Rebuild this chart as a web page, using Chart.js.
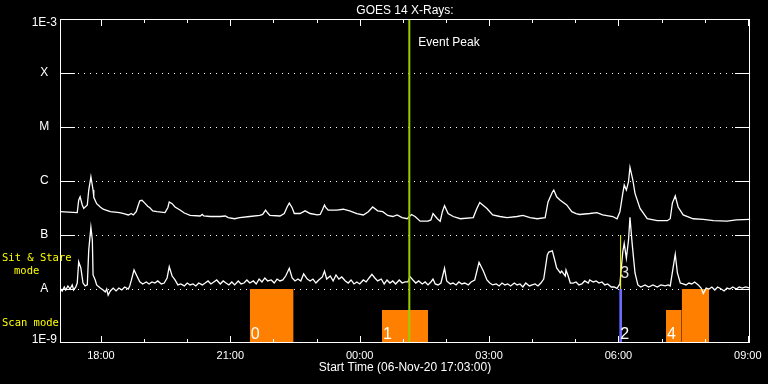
<!DOCTYPE html>
<html>
<head>
<meta charset="utf-8">
<script src="https://cdn.jsdelivr.net/npm/chart.js"></script>
<style>
  html, body { margin: 0; padding: 0; background: #000; }
  canvas { display: block; background: #000; }
</style>
</head>
<body>
<canvas id="c" width="768" height="384"></canvas>
<script>
// ---- Data (time in minutes since 06-Nov-20 17:03:00, flux in W/m^2) ----
const startLabel = 'Start Time (06-Nov-20 17:03:00)';
const titleText = 'GOES 14 X-Rays:';
const timeSpan = 960;

const tickMinutes = [57, 237, 417, 597, 777, 957];
const tickLabels = ['18:00', '21:00', '00:00', '03:00', '06:00', '09:00'];

const yLevels = [1e-9, 1e-8, 1e-7, 1e-6, 1e-5, 1e-4, 1e-3];
const yLevelLabels = ['1E-9', 'A', 'B', 'C', 'M', 'X', '1E-3'];

// long channel (1-8 A)
const longT = [
  0,24,26,28,31,33,38,40,43,46,
  47,51,56,60,70,83,90,95,97,99,
  102,106,109,111,114,118,122,125,129,135,
  146,150,152,156,160,167,173,181,195,198,
  200,209,223,230,234,243,250,264,278,282,
  286,289,292,306,312,316,319,323,326,334,
  341,348,358,362,365,368,370,373,385,394,
  403,413,422,429,435,442,449,456,463,469,
  476,483,489,494,501,512,516,519,525,529,
  532,535,540,547,557,575,580,584,594,602,
  612,622,636,644,654,664,675,679,685,687,
  691,696,705,712,718,723,737,747,755,769,
  775,779,783,785,788,791,793,797,800,807,
  817,831,845,849,852,856,860,867,881,895,
  909,928,941,960
];
const longFlux = [
  2.7e-7,2.6e-7,4.4e-7,5.1e-7,3.6e-7,3.1e-7,3.6e-7,6.8e-7,1.2e-6,6.8e-7,
  5.0e-7,3.8e-7,3.3e-7,3.0e-7,2.7e-7,2.6e-7,2.45e-7,2.35e-7,2.4e-7,2.5e-7,
  2.35e-7,2.7e-7,3.6e-7,4.3e-7,4.4e-7,3.9e-7,3.4e-7,3.2e-7,2.8e-7,2.7e-7,
  2.6e-7,3.2e-7,4.1e-7,3.8e-7,3.3e-7,2.9e-7,2.55e-7,2.3e-7,2.25e-7,2.4e-7,
  2.25e-7,2.2e-7,2.2e-7,2.25e-7,2.1e-7,2.0e-7,2.1e-7,2.2e-7,2.3e-7,2.4e-7,
  2.9e-7,2.55e-7,2.3e-7,2.25e-7,2.5e-7,3.3e-7,3.9e-7,3.2e-7,2.5e-7,2.5e-7,
  2.8e-7,2.5e-7,2.35e-7,2.4e-7,2.9e-7,3.6e-7,3.2e-7,2.9e-7,2.9e-7,3.0e-7,
  2.8e-7,2.5e-7,2.35e-7,2.7e-7,3.3e-7,2.8e-7,2.7e-7,2.3e-7,2.2e-7,2.35e-7,
  2.1e-7,2.0e-7,2.4e-7,2.2e-7,1.8e-7,1.8e-7,1.9e-7,2.5e-7,2.0e-7,1.8e-7,
  2.7e-7,3.5e-7,2.5e-7,2.2e-7,2.0e-7,2.1e-7,3.1e-7,4.0e-7,3.1e-7,2.35e-7,
  2.2e-7,2.1e-7,2.2e-7,2.3e-7,2.1e-7,2.0e-7,2.1e-7,4.1e-7,6.2e-7,6.8e-7,
  5.1e-7,4.4e-7,3.6e-7,2.7e-7,2.5e-7,2.4e-7,2.5e-7,2.6e-7,2.35e-7,2.2e-7,
  2.0e-7,2.7e-7,5.9e-7,8.4e-7,6.8e-7,9.7e-7,1.8e-6,1.04e-6,5.9e-7,3.1e-7,
  2.0e-7,1.84e-7,1.84e-7,2.0e-7,3.9e-7,5.3e-7,3.3e-7,2.35e-7,2.0e-7,1.95e-7,
  1.84e-7,1.8e-7,1.9e-7,1.95e-7
];

// short channel (0.5-4 A)
const shortT = [
  0,3,6,8,11,14,17,19,22,24,
  26,29,32,35,38,40,43,45,46,49,
  51,56,60,63,65,67,70,74,78,82,
  86,90,95,97,99,103,107,111,115,120,
  124,128,132,136,141,145,149,152,156,160,
  164,168,173,177,181,185,189,193,198,202,
  206,210,214,218,223,227,231,235,239,243,
  248,252,256,260,264,269,273,277,281,285,
  289,294,298,302,306,310,314,319,323,327,
  331,335,339,344,348,352,356,360,365,368,
  371,376,380,384,388,392,397,401,405,409,
  413,417,422,426,430,434,438,442,447,451,
  455,459,463,467,472,476,480,484,487,491,
  495,499,504,508,512,516,519,522,526,530,
  535,538,543,547,551,555,559,563,568,572,
  577,583,589,594,598,602,607,611,615,619,
  623,627,632,636,640,644,648,653,657,661,
  665,669,673,678,680,685,689,691,696,698,
  703,704,707,710,714,718,722,726,730,735,
  737,742,746,750,754,758,762,767,771,775,
  778,779,783,785,788,791,793,796,800,804,
  808,814,819,825,831,836,842,846,849,851,
  856,859,863,867,871,875,879,883,888,892,
  895,899,903,907,911,915,920,924,928,932,
  936,941,945,949,954,960
];
const shortFlux = [
  1.04e-8,0.92e-8,1.09e-8,0.96e-8,1.14e-8,1.0e-8,1.19e-8,0.96e-8,1.09e-8,1.29e-8,
  3.2e-8,2.45e-8,1.29e-8,1.14e-8,1.19e-8,5.3e-8,1.39e-7,8.1e-8,1.82e-8,1.47e-8,
  1.19e-8,1.04e-8,0.96e-8,0.88e-8,1.0e-8,0.77e-8,0.92e-8,1.04e-8,0.92e-8,1.04e-8,
  0.96e-8,1.09e-8,1.0e-8,1.14e-8,1.41e-8,2.25e-8,1.74e-8,1.36e-8,1.24e-8,1.35e-8,
  1.24e-8,1.35e-8,1.29e-8,1.41e-8,1.24e-8,1.29e-8,1.6e-8,2.59e-8,1.74e-8,1.47e-8,
  1.19e-8,1.24e-8,1.14e-8,1.29e-8,1.19e-8,1.24e-8,1.14e-8,1.29e-8,1.19e-8,1.29e-8,
  1.41e-8,1.24e-8,1.35e-8,1.47e-8,1.24e-8,1.41e-8,1.29e-8,1.19e-8,1.35e-8,1.19e-8,
  1.41e-8,1.24e-8,1.29e-8,1.47e-8,1.29e-8,1.41e-8,1.24e-8,1.53e-8,1.35e-8,1.6e-8,
  1.41e-8,1.47e-8,1.29e-8,1.53e-8,1.41e-8,1.47e-8,1.74e-8,2.42e-8,1.6e-8,1.41e-8,
  1.53e-8,1.41e-8,1.9e-8,1.53e-8,1.41e-8,1.53e-8,1.29e-8,1.47e-8,1.67e-8,2.15e-8,
  1.53e-8,1.74e-8,1.41e-8,1.82e-8,1.53e-8,1.67e-8,1.41e-8,1.29e-8,1.47e-8,1.24e-8,
  1.35e-8,1.24e-8,1.47e-8,1.35e-8,1.6e-8,1.87e-8,1.6e-8,1.41e-8,1.53e-8,1.24e-8,
  1.47e-8,1.29e-8,1.41e-8,1.24e-8,1.47e-8,1.29e-8,1.35e-8,1.35e-8,1.69e-8,1.47e-8,
  1.29e-8,1.41e-8,1.24e-8,1.35e-8,1.19e-8,1.35e-8,1.53e-8,1.24e-8,1.19e-8,1.29e-8,
  2.42e-8,1.41e-8,1.24e-8,1.29e-8,1.19e-8,1.35e-8,1.24e-8,1.29e-8,1.19e-8,1.35e-8,
  1.47e-8,3.12e-8,2.15e-8,1.47e-8,1.29e-8,1.19e-8,1.24e-8,1.14e-8,1.29e-8,1.19e-8,
  1.24e-8,1.14e-8,1.29e-8,1.19e-8,1.24e-8,1.09e-8,1.29e-8,1.14e-8,1.19e-8,1.24e-8,
  1.14e-8,1.29e-8,1.53e-8,4.26e-8,4.84e-8,5.1e-8,3.16e-8,2.45e-8,1.98e-8,2.15e-8,
  1.74e-8,2.25e-8,1.74e-8,1.29e-8,1.29e-8,1.35e-8,1.19e-8,1.24e-8,1.41e-8,1.29e-8,
  1.47e-8,1.35e-8,1.41e-8,1.29e-8,1.35e-8,1.19e-8,1.24e-8,1.09e-8,1.09e-8,1.03e-8,
  1.19e-8,1.24e-8,4.9e-8,7.0e-8,3.7e-8,8.1e-8,2.12e-7,7.0e-8,1.98e-8,1.19e-8,
  1.09e-8,1.19e-8,1.09e-8,1.19e-8,1.09e-8,1.19e-8,1.14e-8,1.19e-8,1.14e-8,1.67e-8,
  4.4e-8,1.98e-8,1.29e-8,1.24e-8,1.19e-8,1.29e-8,1.24e-8,1.35e-8,1.19e-8,1.04e-8,
  0.83e-8,1.04e-8,1.0e-8,1.09e-8,0.96e-8,1.09e-8,1.0e-8,0.92e-8,1.04e-8,1.0e-8,
  1.09e-8,1.0e-8,1.09e-8,1.04e-8,1.09e-8,1.04e-8
];

// observing-mode segments
const segStart = [264, 448, 778, 843, 865];
const segEnd   = [325, 512, 782, 865, 903];
const segMode  = ['stare', 'scan', 'stare', 'scan', 'stare'];
const segEvent = ['0', '1', '2', '4', '4'];
const modeLevel = { scan: 0.61, stare: 1 };

// event peak and marker 3
const eventPeakTime = 486;
const eventPeakLabel = 'Event Peak';
const marker3Time = 780;
const marker3Range = [1e-8, 1e-7];
const marker3Label = '3';

// ---- Build datasets ----
const ORANGE = '#ff8000';
const BLUE = '#6a6aff';
const datasets = [];

segStart.forEach((s, i) => {
  const lvl = modeLevel[segMode[i]];
  const color = segEvent[i] === '2' ? BLUE : ORANGE;
  datasets.push({
    data: [{ x: s, y: lvl }, { x: segEnd[i], y: lvl }],
    yAxisID: 'y2', borderColor: color, backgroundColor: color,
    borderWidth: 0, pointRadius: 0, fill: 'origin', order: 5
  });
});

datasets.push({
  data: longT.map((t, i) => ({ x: t, y: longFlux[i] })),
  yAxisID: 'y', borderColor: '#ffffff', borderWidth: 1.3, pointRadius: 0,
  fill: false, tension: 0, order: 3
});
datasets.push({
  data: shortT.map((t, i) => ({ x: t, y: shortFlux[i] })),
  yAxisID: 'y', borderColor: '#ffffff', borderWidth: 1.3, pointRadius: 0,
  fill: false, tension: 0, order: 3
});
datasets.push({
  data: [{ x: marker3Time, y: marker3Range[0] }, { x: marker3Time, y: marker3Range[1] }],
  yAxisID: 'y', borderColor: '#ffff00', borderWidth: 1, pointRadius: 0, fill: false, order: 2
});
datasets.push({
  data: [{ x: eventPeakTime, y: 1e-9 }, { x: eventPeakTime, y: 1e-3 }],
  yAxisID: 'y', borderColor: '#99cc00', borderWidth: 2, pointRadius: 0, fill: false, order: 1
});

const SANS = '"Liberation Sans", Arial, sans-serif';

const overlay = {
  id: 'overlay',
  beforeDatasetsDraw(chart) {
    const { ctx, chartArea: a, scales: { y } } = chart;
    ctx.save();
    ctx.strokeStyle = '#fff';
    ctx.lineWidth = 1;
    yLevels.forEach((v, i) => {
      if (i === 0 || i === yLevels.length - 1) return;
      const py = Math.round(y.getPixelForValue(v)) + 0.5;
      ctx.setLineDash([]);
      ctx.beginPath();
      ctx.moveTo(a.left, py); ctx.lineTo(a.left + 15, py);
      ctx.moveTo(a.right - 15, py); ctx.lineTo(a.right, py);
      ctx.stroke();
      ctx.setLineDash([1, 5]);
      ctx.beginPath();
      ctx.moveTo(a.left + 18, py); ctx.lineTo(a.right - 16, py);
      ctx.stroke();
    });
    ctx.restore();
  },
  afterDatasetsDraw(chart) {
    const { ctx, chartArea: a, scales: { x, y, y2 } } = chart;
    ctx.save();
    ctx.strokeStyle = '#fff';
    ctx.lineWidth = 1;
    ctx.setLineDash([]);
    // frame
    ctx.strokeRect(a.left + 0.5, a.top + 0.5, a.right - a.left - 1, a.bottom - a.top - 1);
    // inward hourly ticks, top and bottom
    ctx.beginPath();
    for (let m = tickMinutes[0]; m <= timeSpan; m += 60) {
      const px = Math.round(x.getPixelForValue(m)) + 0.5;
      const major = tickMinutes.includes(m);
      const len = major ? 7 : 4;
      ctx.moveTo(px, a.bottom); ctx.lineTo(px, a.bottom - len);
      ctx.moveTo(px, a.top); ctx.lineTo(px, a.top + len);
    }
    ctx.stroke();

    // Event Peak text
    ctx.fillStyle = '#fff';
    ctx.font = '12px ' + SANS;
    ctx.textAlign = 'left';
    ctx.textBaseline = 'middle';
    ctx.fillText(eventPeakLabel, x.getPixelForValue(eventPeakTime) + 9, a.top + 24);

    // segment event numbers
    ctx.font = '16px ' + SANS;
    ctx.textBaseline = 'alphabetic';
    const seen = new Set();
    segStart.forEach((s, i) => {
      if (seen.has(segEvent[i])) return;
      seen.add(segEvent[i]);
      ctx.fillText(segEvent[i], x.getPixelForValue(s) + 1, a.bottom - 4.5);
    });
    ctx.fillStyle = '#e0e0e0';
    ctx.fillText(marker3Label, x.getPixelForValue(marker3Time) - 0.5, y.getPixelForValue(marker3Range[0]) - 11.5);

    // mode labels
    ctx.fillStyle = '#ffff00';
    ctx.font = '10.5px "DejaVu Sans Mono", monospace';
    ctx.textBaseline = 'middle';
    const stareY = y2.getPixelForValue(modeLevel.stare);
    ctx.fillText('Sit & Stare', 2, stareY - 30.5);
    ctx.fillText('mode', 14, stareY - 18);
    ctx.fillText('Scan mode', 2, a.bottom - 19.5);
    ctx.restore();
  }
};

const lastLevel = yLevels.length - 1;

new Chart(document.getElementById('c'), {
  type: 'line',
  data: { datasets },
  options: {
    responsive: false,
    animation: false,
    events: [],
    layout: { padding: { left: 0, right: 18, top: 0, bottom: 0 } },
    plugins: {
      legend: { display: false },
      tooltip: { enabled: false },
      title: {
        display: true, text: titleText, color: '#fff', fullSize: false,
        font: { family: SANS, size: 12, weight: 'normal' },
        padding: { top: 3, bottom: 1.6 }
      }
    },
    scales: {
      x: {
        type: 'linear', min: 0, max: timeSpan,
        afterBuildTicks: s => { s.ticks = tickMinutes.map(v => ({ value: v })); },
        ticks: {
          callback: (v, i) => tickLabels[i], color: '#fff', padding: 6,
          maxRotation: 0, autoSkip: false,
          font: { family: SANS, size: 11 }
        },
        grid: { display: false, drawTicks: false },
        border: { display: false },
        title: {
          display: true, text: startLabel, color: '#fff',
          font: { family: SANS, size: 12 }, padding: { top: 0, bottom: 9 }
        },
        afterFit: s => { s.height = 41; }
      },
      y: {
        type: 'logarithmic', min: 1e-9, max: 1e-3,
        afterBuildTicks: s => { s.ticks = yLevels.map(v => ({ value: v })); },
        ticks: {
          // end labels sit just inside the frame, as in the original plot
          callback: (v, i) => i === 0 ? [yLevelLabels[i], ''] :
                              i === lastLevel ? ['', yLevelLabels[i]] : yLevelLabels[i],
          color: '#fff', padding: 3,
          crossAlign: 'center', autoSkip: false,
          font: c => ({ family: SANS, size: 12,
                        lineHeight: c.index === 0 ? '6px' : c.index === lastLevel ? '8px' : 1.2 })
        },
        grid: { display: false, drawTicks: false },
        border: { display: false },
        afterFit: s => { s.width = 60; }
      },
      y2: { type: 'linear', min: 0, max: 6, display: false }
    }
  },
  plugins: [overlay]
});
</script>
</body>
</html>
